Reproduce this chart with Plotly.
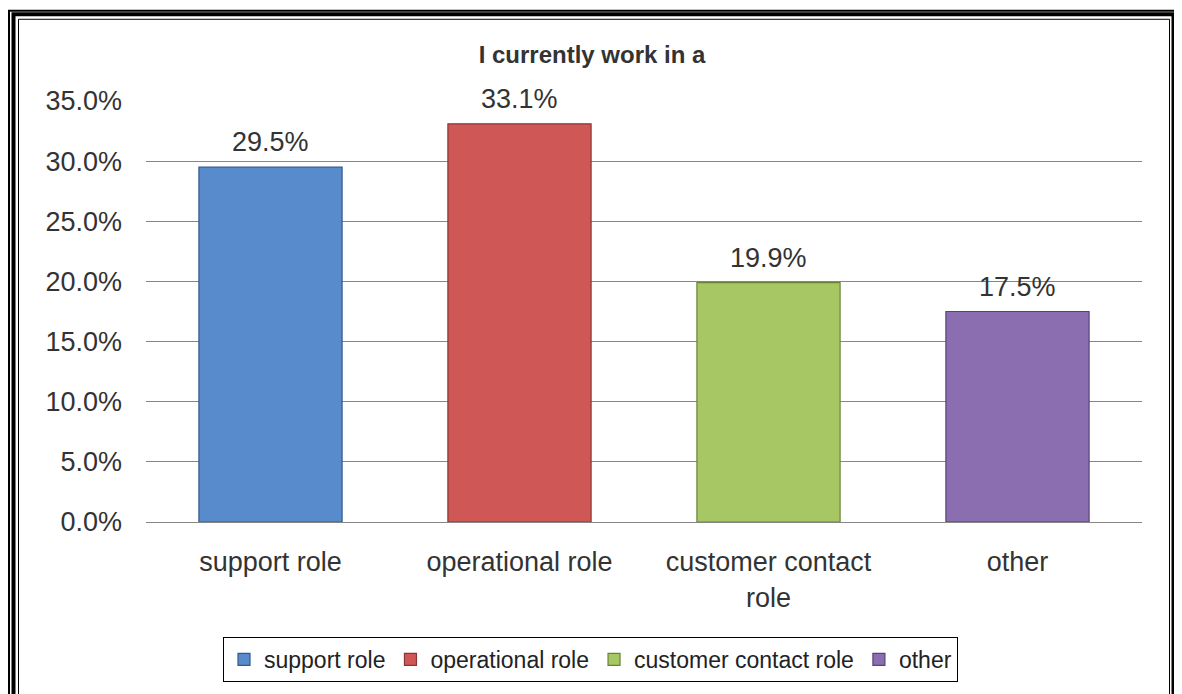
import plotly.graph_objects as go

categories = ["support role", "operational role", "customer contact role", "other"]
tick_labels = ["support role", "operational role", "customer contact<br>role", "other"]
values = [29.5, 33.1, 19.9, 17.5]
colors = ["#588BCB", "#CF5856", "#A6C763", "#8B6EB0"]
edge_colors = ["#35598A", "#8A3634", "#6A8436", "#56437A"]
y_ticks = [0, 5, 10, 15, 20, 25, 30, 35]

# page body has an 8px margin; figure sized to fit the window
OFF = 8
W, H = 1182 - OFF, 694 - OFF
L, R = 146 - OFF, 40
T = 101 - OFF
B = H - (526 - OFF)
PW, PH = W - L - R, H - T - B


def px(x):
    return (x - OFF - L) / PW


def py(y):
    return (H - B - (y - OFF)) / PH


fig = go.Figure()
for cat, tl, v, c, ec in zip(categories, tick_labels, values, colors, edge_colors):
    fig.add_trace(go.Bar(
        x=[tl], y=[v], name=cat, width=0.575,
        marker=dict(color=c, line=dict(color=ec, width=1.2)),
    ))
    fig.add_annotation(x=tl, y=v, text=f"{v:.1f}%", showarrow=False,
                       yanchor="middle", yshift=25,
                       font=dict(family="Liberation Sans, Arial", size=27, color="#333333"))

shapes = []
# decorative triple-line frame
shapes.append(dict(type="rect", xref="paper", yref="paper",
                   x0=px(9), x1=px(1177.5), y0=py(720), y1=py(10),
                   line=dict(color="black", width=2), fillcolor="rgba(0,0,0,0)", layer="above"))
shapes.append(dict(type="rect", xref="paper", yref="paper",
                   x0=px(13.5), x1=px(1173.5), y0=py(720), y1=py(13.5),
                   line=dict(color="black", width=4), fillcolor="rgba(0,0,0,0)", layer="above"))
shapes.append(dict(type="rect", xref="paper", yref="paper",
                   x0=px(18.5), x1=px(1169.5), y0=py(720), y1=py(18.5),
                   line=dict(color="black", width=1), fillcolor="rgba(0,0,0,0)", layer="above"))

fig.update_layout(
    width=W, height=H,
    margin=dict(l=L, r=R, t=T, b=B),
    paper_bgcolor="white", plot_bgcolor="white",
    barmode="overlay",
    title=dict(text="<b>I currently work in a</b>", xref="container", x=(592 - OFF) / W,
               xanchor="center", yref="container", y=1 - (55 - OFF) / H, yanchor="middle",
               font=dict(family="Liberation Sans, Arial", size=24, color="#333333")),
    font=dict(family="Liberation Sans, Arial", color="#333333"),
    xaxis=dict(showgrid=False, showline=True, linecolor="#868686", linewidth=1,
               ticks="", tickfont=dict(size=27, color="#333333"),
               ticklabelstandoff=16, categoryorder="array", categoryarray=tick_labels),
    yaxis=dict(range=[0, 35], tickvals=y_ticks, ticktext=[f"{t:.1f}%" for t in y_ticks],
               showgrid=True, gridcolor="#868686", gridwidth=1, zeroline=False,
               showline=False, ticks="", tickfont=dict(size=27, color="#333333"),
               ticklabelstandoff=23),
    showlegend=True,
    legend=dict(orientation="h", x=px(590.5), xanchor="center", y=py(642), yanchor="top",
                bordercolor="black", borderwidth=1, bgcolor="white",
                font=dict(family="Liberation Sans, Arial", size=23, color="#222222"),
                itemwidth=30, traceorder="normal"),
    shapes=shapes,
)

fig.write_html("out.html")
